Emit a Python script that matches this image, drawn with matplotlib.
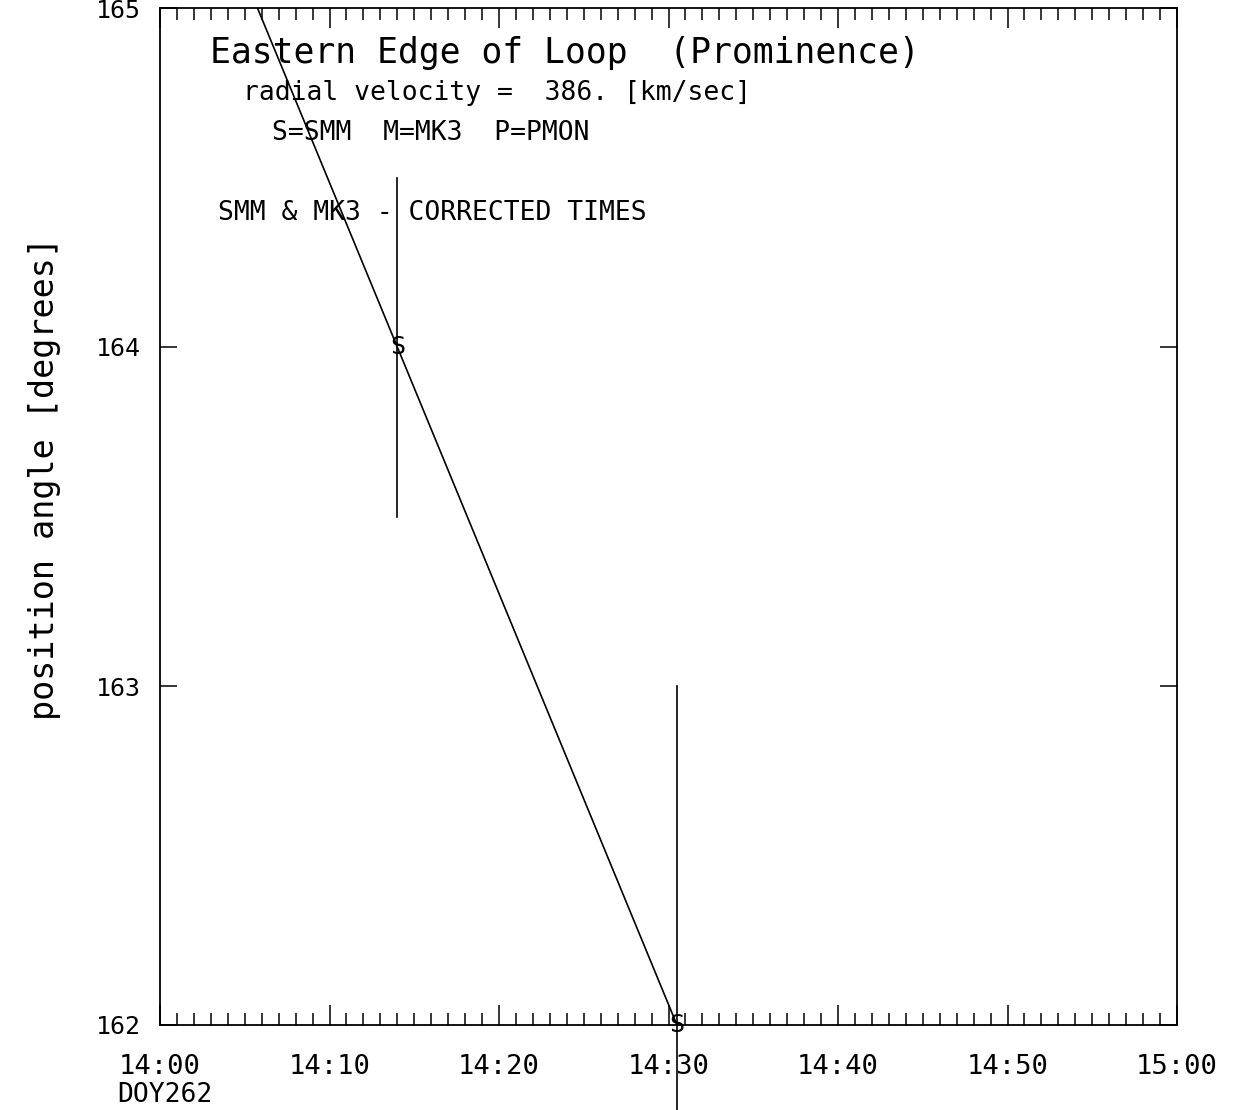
import matplotlib
matplotlib.use("Agg")
import matplotlib.pyplot as plt
import numpy as np
from matplotlib.ticker import MultipleLocator, FuncFormatter

# data: minutes after 14:00 on DOY 262
t_obs = [14.0, 30.5]
pa_obs = [164.0, 162.0]
pa_err = [0.5, 1.0]
obs_lbl = ["S", "S"]

title = "Eastern Edge of Loop  (Prominence)"
vel_txt = "radial velocity =  386. [km/sec]"
key_txt = "S=SMM  M=MK3  P=PMON"
corr_txt = "SMM & MK3 - CORRECTED TIMES"

plt.rcParams['font.family'] = ['DejaVu Sans Mono']

fig = plt.figure(figsize=(12.35, 11.10), dpi=100)
ax = fig.add_axes([160/1235, 1-1025/1110, 1017/1235, 1017/1110])

# straight line fit through the points
p = np.polyfit(t_obs, pa_obs, 1)
tt = np.array([0.0, t_obs[-1]])
ax.plot(tt, np.polyval(p, tt), color="black", lw=1.2)

for i in range(len(t_obs)):
    ax.plot([t_obs[i], t_obs[i]], [pa_obs[i]-pa_err[i], pa_obs[i]+pa_err[i]],
            color="black", lw=1.2, clip_on=False)
    ax.text(t_obs[i], pa_obs[i], obs_lbl[i], ha="center", va="center",
            fontsize=18, clip_on=False)

ax.set_xlim(0, 60)
ax.set_ylim(162, 165)
ax.xaxis.set_major_locator(MultipleLocator(10))
ax.xaxis.set_minor_locator(MultipleLocator(1))
ax.yaxis.set_major_locator(MultipleLocator(1))
ax.xaxis.set_major_formatter(FuncFormatter(lambda v, pos: "%02d:%02d" % (14 + int(v)//60, int(v) % 60)))
ax.tick_params(axis="x", which="major", direction="in", length=14.5, width=1.1,
               top=True, labelsize=19.5, pad=21)
ax.tick_params(axis="x", which="minor", direction="in", length=8.5, width=1.1, top=True)
ax.tick_params(axis="y", which="major", direction="in", length=12, width=1.1,
               right=True, labelsize=18, pad=14)
for s in ax.spines.values():
    s.set_linewidth(1.3)

ax.text(0.049, 0.946, title, transform=ax.transAxes, fontsize=25, va="baseline")
ax.text(0.0816, 0.9095, vel_txt, transform=ax.transAxes, fontsize=19, va="baseline")
ax.text(0.110, 0.870, key_txt, transform=ax.transAxes, fontsize=19, va="baseline")
ax.text(0.057, 0.7915, corr_txt, transform=ax.transAxes, fontsize=19, va="baseline")

fig.text(45/1235, 1-478/1110, "position angle [degrees]", rotation=90,
         ha="center", va="center", fontsize=24)
fig.text(117/1235, 1-1095/1110, "DOY262", ha="left", va="center", fontsize=19)

fig.savefig("out.png", dpi=100)
